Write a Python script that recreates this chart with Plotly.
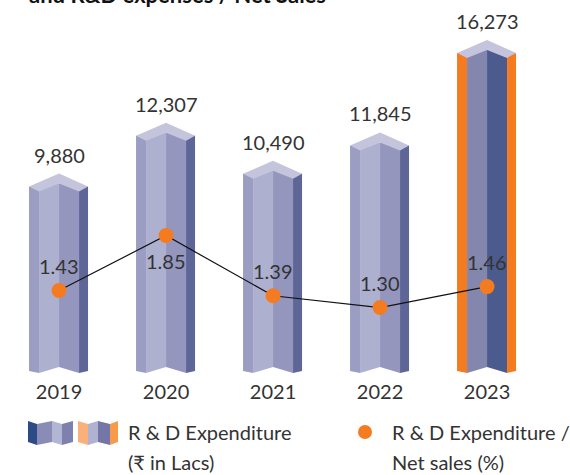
import plotly.graph_objects as go

# ---------------- data ----------------
years = ["2019", "2020", "2021", "2022", "2023"]
rd_expenditure = [9880, 12307, 10490, 11845, 16273]      # ₹ in Lacs
rd_pct_sales = [1.43, 1.85, 1.39, 1.30, 1.46]            # %
pct_label_side = [1, -1, 1, 1, 1]                        # label above (+1) / below (-1)

# ---------------- layout geometry ----------------
W, H = 570, 475
ML, MR, MT, MB = 5, 30, 0, 102
PW, PH = W - ML - MR, H - MT - MB
X_RANGE = [-0.505, 4.495]
Y_RANGE = [335, 18182]
Y2_RANGE = [0.80, 3.649]
XU = (X_RANGE[1] - X_RANGE[0]) / PW      # x units per px
YU = (Y_RANGE[1] - Y_RANGE[0]) / PH      # y units per px

FONT = "Lato"
TXT = "#333333"
ORANGE = "#f47b20"

normal = dict(left="#9b9dc3", il="#aeb0d0", ir="#9496be", right="#5e6698", top="#c4c5dd")
accent = dict(left=ORANGE, il="#8487ad", ir="#4b5b8e", right=ORANGE, top="#c4c5dd")
styles = [normal, normal, normal, normal, accent]

xs = list(range(len(years)))
fig = go.Figure()

# strips: (name, left px offset, right px offset, px below value where strip's flat top sits)
strips = [("left", -30, -20, 13), ("il", -20, 0, 10), ("ir", 0, 20, 10), ("right", 20, 29, 13)]
for key, a, b, drop in strips:
    fig.add_trace(go.Bar(
        x=xs, y=[v - drop * YU for v in rd_expenditure], base=0,
        offset=a * XU, width=(b - a) * XU,
        marker=dict(color=[s[key] for s in styles], line=dict(width=0)),
        hoverinfo="skip", showlegend=False))

# top bevel faces (chevron) built from each value
for i, v in enumerate(rd_expenditure):
    pts = [(-30, -13), (0, 0), (29, -13), (20, -18), (0, -10), (-20, -18), (-30, -13)]
    fig.add_trace(go.Scatter(
        x=[i + dx * XU for dx, _ in pts], y=[v + dy * YU for _, dy in pts],
        mode="lines", fill="toself", fillcolor=styles[i]["top"],
        line=dict(width=0, color=styles[i]["top"]), hoverinfo="skip", showlegend=False))
    # bottom notch
    bpts = [(-31, -2), (-30, 2), (-20, 0), (0, 6), (20, 0), (29, 2), (30, -2), (-31, -2)]
    fig.add_trace(go.Scatter(
        x=[i + dx * XU for dx, _ in bpts], y=[Y_RANGE[0] + dy * YU for _, dy in bpts],
        mode="lines", fill="toself", fillcolor="white",
        line=dict(width=0, color="white"), hoverinfo="skip", showlegend=False))

# line + dots on secondary axis
fig.add_trace(go.Scatter(
    x=xs, y=rd_pct_sales, yaxis="y2", mode="lines+markers",
    line=dict(color="#111111", width=1.2),
    marker=dict(color=ORANGE, size=15),
    hoverinfo="skip", showlegend=False))

annotations = []
for i, v in enumerate(rd_expenditure):
    annotations.append(dict(x=i, y=v, xref="x", yref="y", text=f"{v:,}", showarrow=False,
                            yanchor="middle", yshift=19, font=dict(family=FONT, size=20, color=TXT)))
for i, p in enumerate(rd_pct_sales):
    annotations.append(dict(x=i, y=p, xref="x", yref="y2", text=f"{p:.2f}", showarrow=False,
                            yanchor="middle", yshift=25 * pct_label_side[i],
                            font=dict(family=FONT, size=20, color=TXT)))


def px_x(p):
    return (p - ML) / PW


def px_y(p):
    return (MT + PH - p) / PH


# title (cut off at the top)
annotations.append(dict(x=px_x(27), y=px_y(10), xref="paper", yref="paper",
                        xanchor="left", yanchor="bottom", showarrow=False,
                        text="<b>and R&amp;D expenses / Net Sales</b>",
                        font=dict(family=FONT, size=22, color="#111111")))

# legend texts
for txt, x, y in [("R &amp; D Expenditure", 126, 432), ("(₹ in Lacs)", 126, 462),
                  ("R &amp; D Expenditure /", 390, 432), ("Net sales (%)", 390, 462)]:
    annotations.append(dict(x=px_x(x), y=px_y(y), xref="paper", yref="paper",
                            xanchor="left", yanchor="middle", showarrow=False, text=txt,
                            font=dict(family=FONT, size=20, color=TXT)))

shapes = []


def strip(x0, x1, t0, t1, b0, b1, color):
    path = (f"M {px_x(x0)},{px_y(t0)} L {px_x(x1)},{px_y(t1)} "
            f"L {px_x(x1)},{px_y(b1)} L {px_x(x0)},{px_y(b0)} Z")
    shapes.append(dict(type="path", path=path, xref="paper", yref="paper",
                       fillcolor=color, line=dict(width=0)))


# legend icon 1
strip(28, 37, 421, 424, 442, 445, "#2b4a86")
strip(37, 52, 424, 421, 445, 442, "#8a8cb6")
strip(52, 62, 421, 424, 442, 445, "#b3b5d4")
strip(62, 73, 424, 421, 445, 442, "#7e80ae")
# legend icon 2
strip(78, 88, 421, 424, 442, 445, "#f9b07a")
strip(88, 98, 424, 421, 445, 442, "#b0b2d2")
strip(98, 110, 421, 424, 442, 445, "#7376a7")
strip(110, 118, 424, 421, 445, 442, "#f79a4a")
# legend dot
shapes.append(dict(type="circle", xref="paper", yref="paper",
                   x0=px_x(358), x1=px_x(372), y0=px_y(439), y1=px_y(425),
                   fillcolor=ORANGE, line=dict(width=0)))

fig.update_layout(
    width=W, height=H, margin=dict(l=ML, r=MR, t=MT, b=MB),
    paper_bgcolor="white", plot_bgcolor="white",
    barmode="overlay", showlegend=False,
    font=dict(family=FONT, color=TXT),
    xaxis=dict(range=X_RANGE, tickmode="array", tickvals=xs, ticktext=years,
               showgrid=False, zeroline=False, showline=False,
               ticks="outside", ticklen=1, tickcolor="rgba(0,0,0,0)",
               tickfont=dict(family=FONT, size=20, color=TXT), fixedrange=True),
    yaxis=dict(range=Y_RANGE, visible=False, showgrid=False, fixedrange=True),
    yaxis2=dict(range=Y2_RANGE, overlaying="y", side="right", visible=False,
                showgrid=False, fixedrange=True),
    annotations=annotations, shapes=shapes,
)

fig.write_html("out.html", config={"displayModeBar": False},
               post_script="document.body.style.margin='0px';document.body.style.overflow='hidden';")
